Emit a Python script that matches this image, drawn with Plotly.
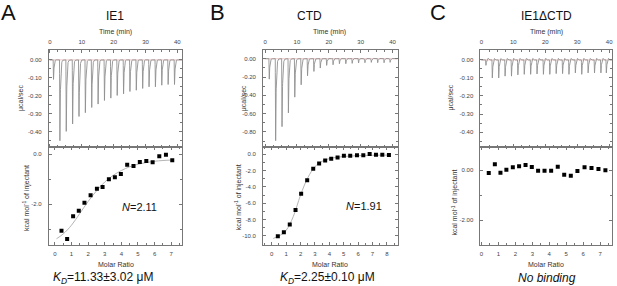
import numpy as np
import plotly.graph_objects as go

W, H = 617, 286

# ---------------- data ----------------
# injection times (min)
inj_time_A = [1, 3, 5, 7, 9, 11, 13, 15, 17, 19, 21, 23, 25, 27, 29, 31, 33, 35, 37, 39]
inj_time_B = [1.2, 3.2, 5.2, 7.2, 9.2, 11.2, 13.2, 15.2, 17.2, 19.2, 21.2, 23.2, 25.2, 27.2, 29.2, 31.2, 33.2, 35.2, 37.2, 39.1]
inj_time_C = [1.3, 3.3, 5.3, 7.3, 9.3, 11.3, 13.3, 15.3, 17.3, 19.3, 21.3, 23.3, 25.3, 27.3, 29.3, 31.3, 33.3, 35.3, 37.3, 39.0]

# raw peak heights (µcal/sec)
peak_A = [-0.109, -0.45, -0.398, -0.357, -0.315, -0.294, -0.265, -0.246, -0.226, -0.213,
          -0.198, -0.189, -0.176, -0.169, -0.159, -0.150, -0.150, -0.141, -0.137, -0.137]
peak_B = [-0.223, -0.895, -0.742, -0.592, -0.420, -0.285, -0.186, -0.139, -0.102, -0.073,
          -0.066, -0.055, -0.055, -0.051, -0.047, -0.044, -0.040, -0.044, -0.044, -0.040]
peak_C = [-0.030, -0.100, -0.100, -0.090, -0.090, -0.083, -0.080, -0.080, -0.078, -0.080,
          -0.080, -0.076, -0.076, -0.080, -0.072, -0.080, -0.072, -0.072, -0.072, -0.072]
overshoot = {"A": 0.003, "B": 0.003, "C": 0.010}

# integrated heats
molar_A = [0.40, 0.74, 1.10, 1.44, 1.78, 2.15, 2.53, 2.87, 3.25, 3.61, 3.97, 4.35, 4.73, 5.11, 5.50, 5.88, 6.28, 6.68, 7.06]
heat_A = [-3.07, -3.40, -2.49, -2.27, -1.95, -1.65, -1.39, -1.32, -1.01, -0.93, -0.80, -0.43, -0.48, -0.32, -0.28, -0.33, -0.09, -0.03, -0.25]
molar_B = [0.42, 0.84, 1.25, 1.65, 2.04, 2.46, 2.88, 3.29, 3.71, 4.13, 4.57, 5.01, 5.45, 5.92, 6.36, 6.80, 7.24, 7.68, 8.14]
heat_B = [-10.04, -9.55, -8.60, -6.84, -4.84, -3.20, -1.80, -1.15, -0.78, -0.57, -0.41, -0.20, -0.20, -0.16, -0.16, 0.00, -0.08, -0.08, -0.12]
molar_C = [0.43, 0.79, 1.12, 1.47, 1.85, 2.22, 2.60, 2.97, 3.34, 3.72, 4.11, 4.50, 4.88, 5.27, 5.66, 6.08, 6.49, 6.90, 7.31]
heat_C = [-0.12, 0.23, -0.11, 0.01, 0.11, 0.15, 0.20, 0.12, -0.03, -0.03, -0.03, 0.13, -0.19, -0.23, -0.04, 0.11, 0.08, 0.04, -0.01]

# fitted curves
fit_x_A = [0.1, 0.5, 1.0, 1.5, 2.0, 2.5, 3.0, 3.5, 4.0, 4.5, 5.0, 5.5, 6.0, 6.5, 7.1]
fit_y_A = [-3.39, -3.20, -2.85, -2.38, -1.90, -1.48, -1.12, -0.86, -0.66, -0.51, -0.41, -0.34, -0.29, -0.26, -0.24]
fit_x_B = [0.1, 0.5, 1.0, 1.5, 2.0, 2.5, 3.0, 3.5, 4.0, 5.0, 6.0, 7.0, 8.2]
fit_y_B = [-10.30, -10.00, -9.30, -7.60, -5.00, -2.90, -1.55, -0.88, -0.56, -0.30, -0.20, -0.15, -0.13]

# tick labels
time_ticks = [0, 10, 20, 30, 40]
time_text = ["0", "10", "20", "30", "40"]
raw_ticks_A = [0, -0.1, -0.2, -0.3, -0.4]
raw_text_A = ["0.00", "-0.10", "-0.20", "-0.30", "-0.40"]
raw_ticks_B = [0, -0.2, -0.4, -0.6, -0.8]
raw_text_B = ["0.00", "-0.20", "-0.40", "-0.60", "-0.80"]
heat_ticks_A = [0, -2]
heat_text_A = ["0.0", "-2.0"]
heat_ticks_B = [0, -2, -4, -6, -8, -10]
heat_text_B = ["0.0", "-2.0", "-4.0", "-6.0", "-8.0", "-10.0"]
heat_ticks_C = [0, -2]
heat_text_C = ["0.00", "-2.00"]
molar_ticks_A = [0, 1, 2, 3, 4, 5, 6, 7]
molar_ticks_B = [0, 1, 2, 3, 4, 5, 6, 7, 8]
molar_ticks_C = [0, 1, 2, 3, 4, 5, 6, 7]

titles = ["IE1", "CTD", "IE1ΔCTD"]
letters = ["A", "B", "C"]
n_labels = ["<i>N</i>=2.11", "<i>N</i>=1.91", None]
kd_labels = ["<i>K<sub>D</sub></i>=11.33±3.02 μM", "<i>K<sub>D</sub></i>=2.25±0.10 μM", "<i>No binding</i>"]


def thermogram(times, peaks, over, tmax):
    t = np.arange(0, tmax, 0.02)
    y = np.zeros_like(t)
    for ti, pk in zip(times, peaks):
        d = t - ti
        down = (d >= 0) & (d < 0.12)
        y[down] += pk * d[down] / 0.12
        up = d >= 0.12
        y[up] += pk * np.exp(-(d[up] - 0.12) / 0.18)
        bump = (d > 0.5) & (d < 1.1)
        y[bump] += over * np.sin(np.pi * (d[bump] - 0.5) / 0.6)
    return t, y


FONT = "Liberation Sans, Arial, sans-serif"
fig = go.Figure()

# panel geometry in pixels
px_x = {"A": (48, 182), "B": (263, 398), "C": (481, 613)}
top_y = (50, 147)
bot_y = (147, 245)


def xdom(p):
    return [px_x[p][0] / W, px_x[p][1] / W]


def ydom(py):
    return [1 - py[1] / H, 1 - py[0] / H]


panels = {
    "A": dict(t=inj_time_A, pk=peak_A, mx=molar_A, hy=heat_A, fx=fit_x_A, fy=fit_y_A,
              trange=[-0.35, 41.6], rrange=[-0.485, 0.055], rt=raw_ticks_A, rtt=raw_text_A, rminor=0.05,
              mrange=[-0.36, 7.67], hrange=[-3.64, 0.28], ht=heat_ticks_A, htt=heat_text_A, hminor=1.0,
              mt=molar_ticks_A),
    "B": dict(t=inj_time_B, pk=peak_B, mx=molar_B, hy=heat_B, fx=fit_x_B, fy=fit_y_B,
              trange=[-0.6, 41.6], rrange=[-0.964, 0.095], rt=raw_ticks_B, rtt=raw_text_B, rminor=0.1,
              mrange=[-0.6, 8.75], hrange=[-11.1, 0.86], ht=heat_ticks_B, htt=heat_text_B, hminor=1.0,
              mt=molar_ticks_B),
    "C": dict(t=inj_time_C, pk=peak_C, mx=molar_C, hy=heat_C, fx=None, fy=None,
              trange=[-0.3, 40.9], rrange=[-0.483, 0.055], rt=raw_ticks_A, rtt=raw_text_A, rminor=0.05,
              mrange=[-0.06, 7.7], hrange=[-3.0, 0.92], ht=heat_ticks_C, htt=heat_text_C, hminor=1.0,
              mt=molar_ticks_C),
}

axis_common = dict(showline=True, linecolor="#777", linewidth=1, mirror="allticks",
                   ticks="inside", ticklen=3, tickcolor="#777", showgrid=False, zeroline=False,
                   tickfont=dict(family=FONT, size=6, color="#444"), ticklabelstandoff=3)

layout = {}
for i, p in enumerate(["A", "B", "C"]):
    d = panels[p]
    ti = 2 * i + 1
    bi = 2 * i + 2
    # top thermogram
    t, y = thermogram(d["t"], d["pk"], overshoot[p], d["trange"][1])
    fig.add_trace(go.Scatter(x=[d["trange"][0], d["trange"][1]], y=[0, 0], mode="lines",
                             line=dict(color="#eab0b0", width=0.7),
                             xaxis=f"x{ti}", yaxis=f"y{ti}", showlegend=False, hoverinfo="skip"))
    fig.add_trace(go.Scatter(x=t, y=y, mode="lines", line=dict(color="#909090", width=0.9),
                             xaxis=f"x{ti}", yaxis=f"y{ti}", showlegend=False, hoverinfo="skip"))
    # bottom integrated heats
    if d["fx"] is not None:
        fig.add_trace(go.Scatter(x=d["fx"], y=d["fy"], mode="lines", line=dict(color="#b5b5b5", width=1, shape="spline"),
                                 xaxis=f"x{bi}", yaxis=f"y{bi}", showlegend=False, hoverinfo="skip"))
    fig.add_trace(go.Scatter(x=d["mx"], y=d["hy"], mode="markers",
                             marker=dict(symbol="square", size=4, color="black"),
                             xaxis=f"x{bi}", yaxis=f"y{bi}", showlegend=False))

    layout[f"xaxis{ti}"] = dict(axis_common, domain=xdom(p), range=d["trange"], anchor=f"y{ti}", side="top",
                                tickmode="array", tickvals=time_ticks, ticktext=time_text,
                                minor=dict(dtick=2.5, tick0=0, ticks="inside", ticklen=2, tickcolor="#777"))
    layout[f"yaxis{ti}"] = dict(axis_common, domain=ydom(top_y), range=d["rrange"], anchor=f"x{ti}",
                                tickmode="array", tickvals=d["rt"], ticktext=d["rtt"], ticklabelstandoff=5,
                                minor=dict(dtick=d["rminor"], tick0=0, ticks="inside", ticklen=2, tickcolor="#777"))
    layout[f"xaxis{bi}"] = dict(axis_common, domain=xdom(p), range=d["mrange"], anchor=f"y{bi}",
                                tickmode="array", tickvals=d["mt"], ticktext=[str(v) for v in d["mt"]],
                                minor=dict(dtick=0.5, tick0=0, ticks="inside", ticklen=2, tickcolor="#777"))
    layout[f"yaxis{bi}"] = dict(axis_common, domain=ydom(bot_y), range=d["hrange"], anchor=f"x{bi}",
                                tickmode="array", tickvals=d["ht"], ticktext=d["htt"], ticklabelstandoff=5,
                                minor=dict(dtick=d["hminor"], tick0=0, ticks="inside", ticklen=2, tickcolor="#777"))

annots = []


def ann(text, x, y, size, angle=0, color="#222", xanchor="center"):
    annots.append(dict(text=text, x=x / W, y=1 - y / H, xref="paper", yref="paper", showarrow=False,
                       font=dict(family=FONT, size=size, color=color), textangle=angle,
                       xanchor=xanchor, yanchor="middle"))


letter_x = [8, 217, 438]
title_x = [114, 310, 547]
center_x = [115, 330, 547]
kd_x = [102, 328, 548]
ylab1_x = [20, 244, 451]
ylab2_x = [25, 238, 455]
ylab2_y = [198, 197, 203]
n_pos = [(139, 207), (364, 206), None]

for i in range(3):
    ann(letters[i], letter_x[i], 13, 22, color="#111")
    ann(titles[i], title_x[i], 16, 12, color="#111")
    ann("Time (min)", center_x[i], 32, 7, color="#333")
    ann("Molar Ratio", center_x[i], 264, 7, color="#333")
    ann(kd_labels[i], kd_x[i], 278, 12, color="#111")
    ann("μcal/sec", ylab1_x[i], 98, 7, angle=-90, color="#333")
    ann("kcal mol<sup>-1</sup> of injectant", ylab2_x[i], ylab2_y[i], 7, angle=-90, color="#333")
    if n_labels[i]:
        ann(n_labels[i], n_pos[i][0], n_pos[i][1], 11, color="#111")

fig.update_layout(width=W, height=H, margin=dict(l=0, r=0, t=0, b=0),
                  paper_bgcolor="white", plot_bgcolor="white", annotations=annots, **layout)

fig.write_html("out.html", config={"displayModeBar": False},
               post_script="document.body.style.margin='0px';document.body.style.padding='0px';")
